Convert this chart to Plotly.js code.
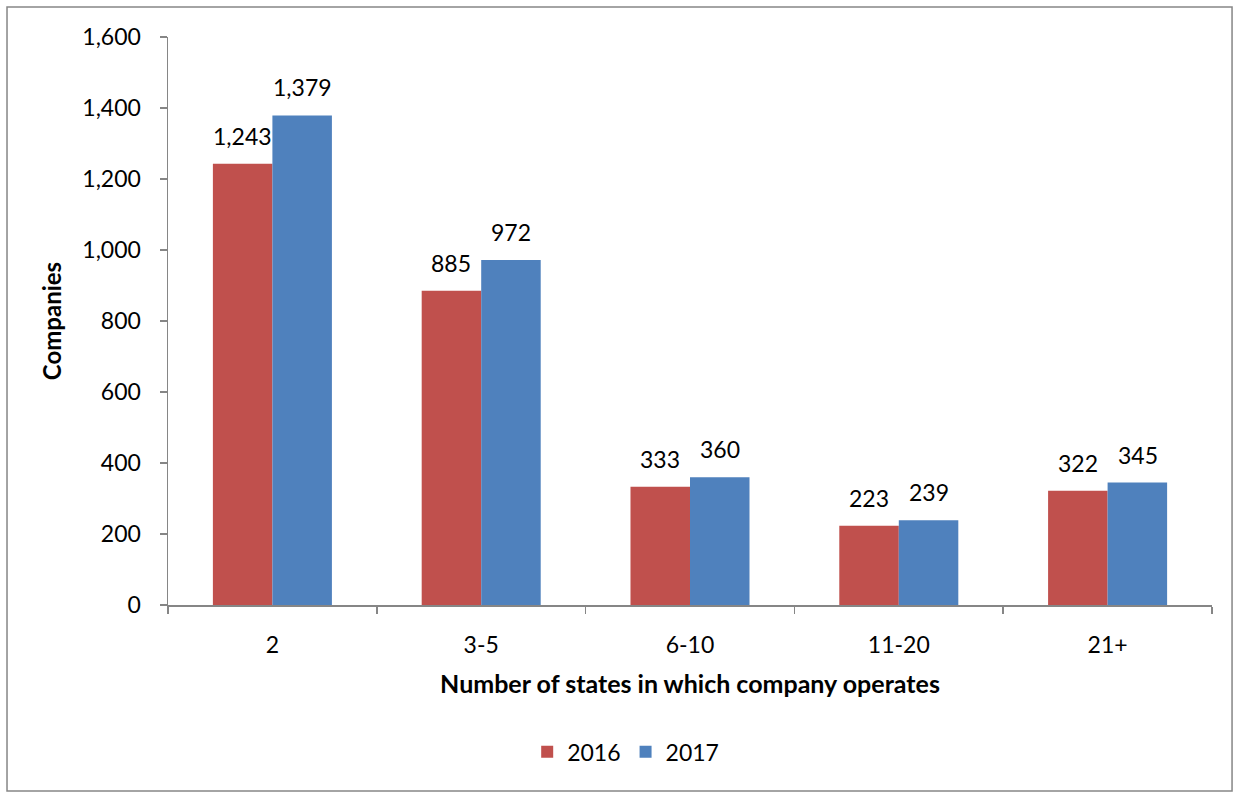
<!DOCTYPE html>
<html>
<head>
<meta charset="utf-8">
<script src="https://cdn.plot.ly/plotly-3.0.1.min.js"></script>
<style>html,body{margin:0;padding:0;background:#fff;}#chart{width:1239px;height:793px;}</style>
</head>
<body>
<div id="chart"></div>
<script>
const categories = ["2", "3-5", "6-10", "11-20", "21+"];
const values2016 = [1243, 885, 333, 223, 322];
const values2017 = [1379, 972, 360, 239, 345];
const seriesNames = ["2016", "2017"];
const yTickVals = [0, 200, 400, 600, 800, 1000, 1200, 1400, 1600];

const FONT = "Lato, 'Open Sans', sans-serif";
const FS = 23;
const fmt = v => v.toLocaleString('en-US');

const traces = [
  {type: 'bar', name: seriesNames[0], x: categories, y: values2016,
   marker: {color: '#C0504D'}, hoverinfo: 'none'},
  {type: 'bar', name: seriesNames[1], x: categories, y: values2017,
   marker: {color: '#4F81BD'}, hoverinfo: 'none'}
];

const annotations = [];
[[values2016, -30], [values2017, 30]].forEach(([vals, dx]) => {
  vals.forEach((v, i) => annotations.push({
    x: i, y: v, xref: 'x', yref: 'y', text: fmt(v), showarrow: false,
    xshift: dx, yshift: 12, yanchor: 'bottom', font: {family: FONT, size: FS, color: '#000'}
  }));
});

const layout = {
  width: 1239, height: 793,
  margin: {l: 168, r: 27, t: 37, b: 188},
  paper_bgcolor: '#fff', plot_bgcolor: '#fff',
  font: {family: FONT, size: FS, color: '#000'},
  barmode: 'group', bargap: 0.43, bargroupgap: 0,
  showlegend: true,
  legend: {orientation: 'h', x: 0.505, xref: 'container', xanchor: 'center', y: 0.052, yref: 'container', yanchor: 'middle',
           font: {family: FONT, size: FS}, traceorder: 'normal'},
  xaxis: {
    type: 'category', showline: true, linecolor: '#868686', linewidth: 1.5,
    ticks: 'outside', tickson: 'boundaries', ticklen: 7, tickcolor: '#868686', tickwidth: 1.5,
    showgrid: false, zeroline: false, ticklabelstandoff: 19,
    tickfont: {family: FONT, size: FS},
    title: {text: '<b>Number of states in which company operates</b>', font: {family: FONT, size: 25}, standoff: 18}
  },
  yaxis: {
    range: [0, 1600], tickvals: yTickVals, ticktext: yTickVals.map(fmt),
    showline: true, linecolor: '#868686', linewidth: 1.5,
    ticks: 'outside', ticklen: 7, tickcolor: '#868686', tickwidth: 1.5,
    showgrid: false, zeroline: false, ticklabelstandoff: 14,
    tickfont: {family: FONT, size: FS},
    title: {text: '<b>Companies</b>', font: {family: FONT, size: 24}, standoff: 14}
  },
  annotations: annotations,
  shapes: [
    {type: 'rect', xref: 'paper', yref: 'paper', x0: -0.1542, x1: 1.0192, y0: -0.3275, y1: 1.0528,
     line: {color: '#868686', width: 1.5}, fillcolor: 'rgba(0,0,0,0)'}
  ]
};

Plotly.newPlot('chart', traces, layout, {displayModeBar: false, staticPlot: true});
</script>
</body>
</html>
